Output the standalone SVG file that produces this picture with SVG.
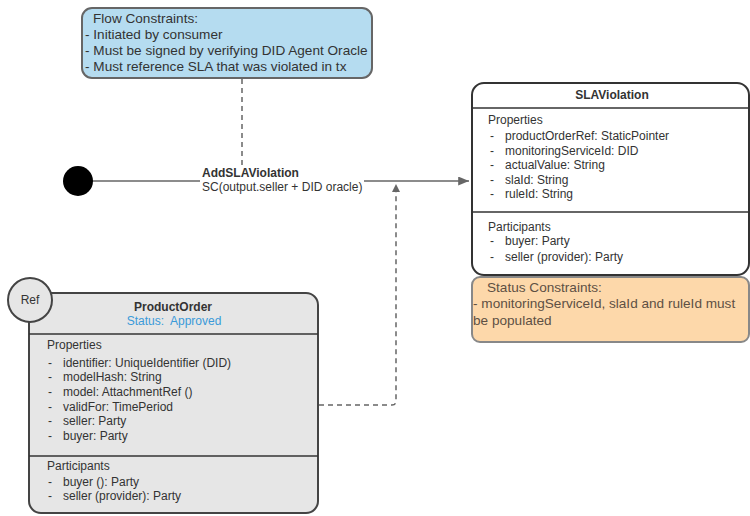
<svg xmlns="http://www.w3.org/2000/svg" width="750" height="516" viewBox="0 0 750 516">
  <style>
    text { font-family: "Liberation Sans", Arial, sans-serif; font-size: 12px; fill: #333; }
    .title { font-weight: bold; text-anchor: middle; }
    .note { font-size: 13.6px; }
    .warm { fill: #5e5044; }
    .status { fill: #3a9ad9; text-anchor: middle; }
    .sep { stroke: #333; stroke-width: 1.5; }
    .flow { stroke: #666; stroke-width: 1.5; fill: none; }
    .dash { stroke: #666; stroke-width: 1.5; fill: none; stroke-dasharray: 5 4; }
  </style>
  <defs>
    <marker id="arrow" viewBox="0 0 10 10" refX="10" refY="5" markerWidth="8" markerHeight="9" markerUnits="userSpaceOnUse" orient="auto">
      <path d="M0,0 L10,5 L0,10 Z" fill="#666"/>
    </marker>
    <marker id="arrowBig" viewBox="0 0 12 10" refX="12" refY="5" markerWidth="12" markerHeight="9" markerUnits="userSpaceOnUse" orient="auto">
      <path d="M0,0 L12,5 L0,10 Z" fill="#666"/>
    </marker>
  </defs>

  <!-- connectors -->
  <g id="connectors">
    <path class="flow" d="M92,181 H469" marker-end="url(#arrowBig)"/>
    <path class="dash" d="M242,79 V166"/>
    <path class="dash" d="M319,405 H392 Q396,405 396,401 V184" marker-end="url(#arrow)"/>
    <rect x="200" y="166" width="164" height="28" fill="#fff"/>
    <text x="202" y="177" style="font-weight:bold">AddSLAViolation</text>
    <text x="202" y="191">SC(output.seller + DID oracle)</text>
  </g>

  <!-- start state -->
  <g id="start">
    <circle cx="78" cy="181" r="15" fill="#000"/>
  </g>

  <!-- flow constraints note -->
  <g id="flowConstraints">
    <rect x="82" y="8" width="290" height="70" rx="10" fill="#b5dcf0" stroke="#666" stroke-width="2"/>
    <text class="note" x="93" y="23">Flow Constraints:</text>
    <text class="note" x="85" y="39">- Initiated by consumer</text>
    <text class="note" x="85" y="55">- Must be signed by verifying DID Agent Oracle</text>
    <text class="note" x="85" y="71">- Must reference SLA that was violated in tx</text>
  </g>

  <!-- SLAViolation state -->
  <g id="slaViolation">
    <rect x="472" y="83" width="277" height="192" rx="12" fill="#fff" stroke="#333" stroke-width="2"/>
    <line class="sep" x1="472" y1="108" x2="749" y2="108"/>
    <line class="sep" x1="472" y1="212" x2="749" y2="212"/>
    <text class="title" x="612" y="99">SLAViolation</text>
    <text x="488" y="124">Properties</text>
    <text x="490" y="140">-</text><text x="505" y="140">productOrderRef: StaticPointer</text>
    <text x="490" y="155">-</text><text x="505" y="155">monitoringServiceId: DID</text>
    <text x="490" y="169">-</text><text x="505" y="169">actualValue: String</text>
    <text x="490" y="184">-</text><text x="505" y="184">slaId: String</text>
    <text x="490" y="198">-</text><text x="505" y="198">ruleId: String</text>
    <text x="488" y="231">Participants</text>
    <text x="490" y="245">-</text><text x="505" y="245">buyer: Party</text>
    <text x="490" y="261">-</text><text x="505" y="261">seller (provider): Party</text>
  </g>

  <!-- status constraints note -->
  <g id="statusConstraints">
    <rect x="472" y="277" width="277" height="65" rx="8" fill="#fdd8aa" stroke="#888" stroke-width="2"/>
    <text class="note warm" x="487" y="292">Status Constraints:</text>
    <text class="note warm" x="473" y="308">- monitoringServiceId, slaId and ruleId must</text>
    <text class="note warm" x="473" y="325">be populated</text>
  </g>

  <!-- ProductOrder referenced state -->
  <g id="productOrder">
    <rect x="29" y="293" width="289" height="220" rx="12" fill="#e6e6e6" stroke="#444" stroke-width="2"/>
    <line class="sep" x1="29" y1="334" x2="318" y2="334"/>
    <line class="sep" x1="29" y1="456" x2="318" y2="456"/>
    <text class="title" x="173" y="311">ProductOrder</text>
    <text class="status" x="174" y="325" xml:space="preserve">Status:  Approved</text>
    <text x="47" y="349">Properties</text>
    <text x="48" y="367">-</text><text x="63" y="367">identifier: UniqueIdentifier (DID)</text>
    <text x="48" y="381">-</text><text x="63" y="381">modelHash: String</text>
    <text x="48" y="396">-</text><text x="63" y="396">model: AttachmentRef ()</text>
    <text x="48" y="411">-</text><text x="63" y="411">validFor: TimePeriod</text>
    <text x="48" y="425">-</text><text x="63" y="425">seller: Party</text>
    <text x="48" y="440">-</text><text x="63" y="440">buyer: Party</text>
    <text x="47" y="470">Participants</text>
    <text x="48" y="486">-</text><text x="63" y="486">buyer (): Party</text>
    <text x="48" y="500">-</text><text x="63" y="500">seller (provider): Party</text>
    <circle cx="30" cy="300" r="22" fill="#e6e6e6" stroke="#444" stroke-width="2"/>
    <text x="30" y="304" text-anchor="middle">Ref</text>
  </g>
</svg>
